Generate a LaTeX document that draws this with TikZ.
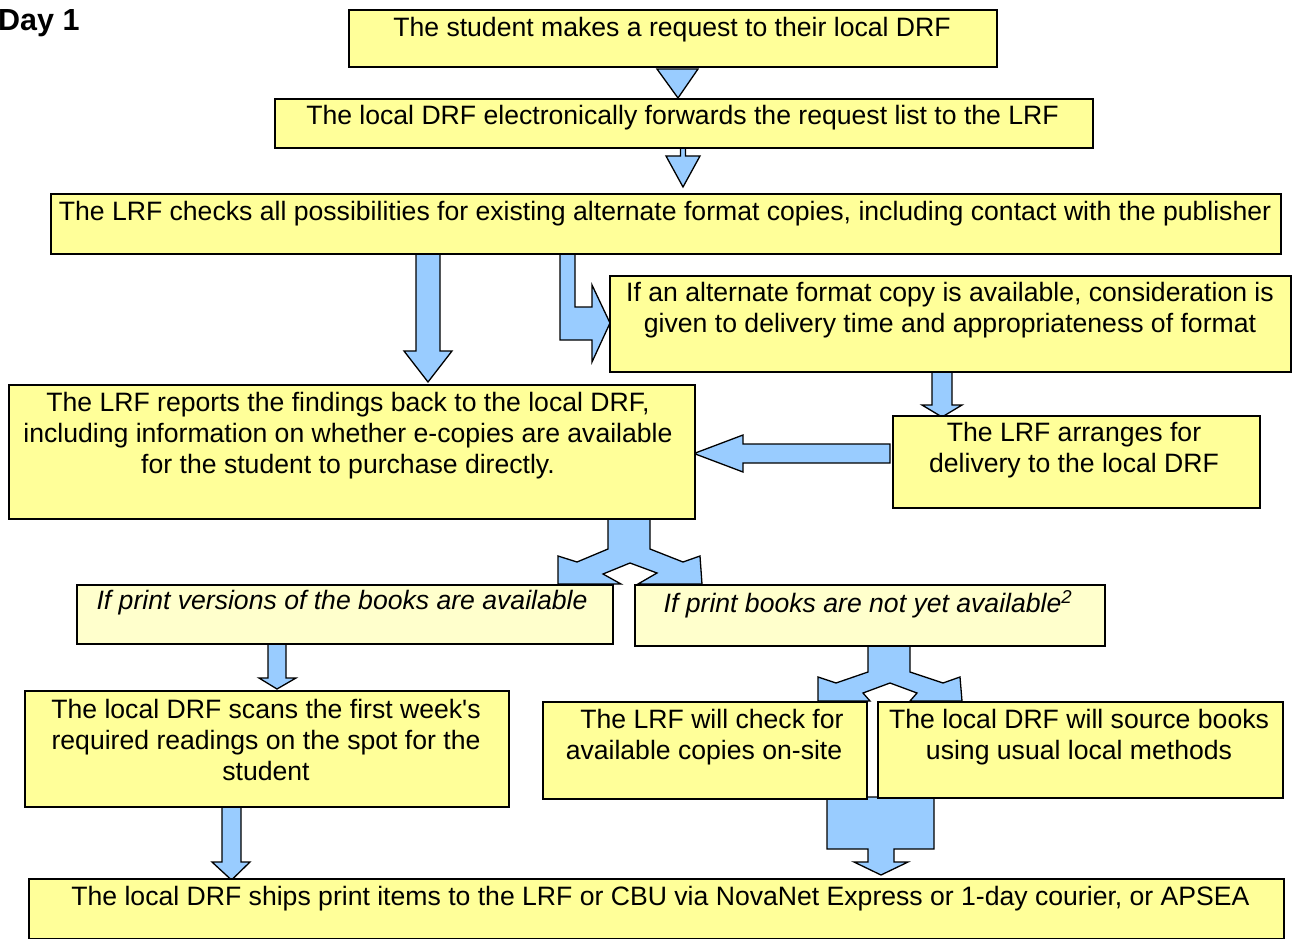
\documentclass[tikz,border=0pt]{standalone}
\usepackage{fontspec}
\setmainfont{Liberation Sans}
\definecolor{boxyellow}{HTML}{FFFF99}
\definecolor{paleyellow}{HTML}{FFFFCC}
\definecolor{arrowblue}{HTML}{99CCFF}
\tikzset{
  box/.style={draw=black, line width=2pt, fill=boxyellow, rectangle, inner sep=0pt, anchor=north west},
  palebox/.style={box, fill=paleyellow},
  txt/.style={inner sep=0pt, anchor=north, align=center, font=\fontsize{26.6}{31}\selectfont},
  itxt/.style={txt, font=\fontsize{26.6}{31}\selectfont\itshape},
  blockarrow/.style={draw=black, line width=1.3pt, fill=arrowblue, line join=miter},
}
\begin{document}
\begin{tikzpicture}[x=1pt, y=-1pt]
\useasboundingbox (0,0) rectangle (1293,939);

% ---- block arrows (drawn first, boxes sit on top of them) ----
\draw[blockarrow] (657,69) -- (698,69) -- (678,98) -- cycle;
\draw[blockarrow] (680.5,147) -- (685.5,147) -- (685.5,156) -- (700,156) -- (683,187)
  -- (666,156) -- (680.5,156) -- cycle;
\draw[blockarrow] (416,253) -- (440,253) -- (440,351) -- (452,351) -- (428,382)
  -- (404,351) -- (416,351) -- cycle;
\draw[blockarrow] (560,253) -- (575,253) -- (575,307) -- (592,307) -- (592,285)
  -- (610,323) -- (592,362) -- (592,340) -- (560,340) -- cycle;
\draw[blockarrow] (932,371) -- (952,371) -- (952,405) -- (962,405) -- (942,417)
  -- (922,405) -- (932,405) -- cycle;
\draw[blockarrow] (890,444) -- (743,444) -- (743,435) -- (694,453.5) -- (743,472)
  -- (743,463) -- (890,463) -- cycle;
% split arrow below the findings box
\draw[blockarrow] (608,518) -- (608,549) -- (577,562) -- (558,556) -- (558,584)
  -- (621,584) -- (603,574) -- (630,563) -- (657,573) -- (638,584) -- (702,584)
  -- (700,556) -- (683,562) -- (650,549) -- (650,518) -- cycle;
% split arrow below the "not yet available" box
\draw[blockarrow] (868,645) -- (868,672) -- (836,683) -- (818,677) -- (818,701)
  -- (870,701) -- (863,693) -- (890,683) -- (917,693) -- (910,701) -- (962,701)
  -- (960,677) -- (943,683) -- (910,672) -- (910,645) -- cycle;
% merge arrow into the shipping box
\draw[blockarrow] (827,797) -- (934,797) -- (934,849) -- (894,849) -- (894,862)
  -- (908,862) -- (881,875) -- (854,862) -- (868,862) -- (868,849) -- (827,849) -- cycle;
\draw[blockarrow] (268,643) -- (286,643) -- (286,678) -- (296,678) -- (277,689)
  -- (259,678) -- (268,678) -- cycle;
\draw[blockarrow] (222,806) -- (241,806) -- (241,862) -- (250,862) -- (231.5,880)
  -- (212,862) -- (222,862) -- cycle;

% ---- boxes ----
\node[box, minimum width=648pt, minimum height=57pt] (b1) at (348,9) {};
\node[box, minimum width=818pt, minimum height=49pt] (b2) at (274,98) {};
\node[box, minimum width=1230pt, minimum height=60pt] (b3) at (50,193) {};
\node[box, minimum width=681pt, minimum height=96pt] (b4) at (609,275) {};
\node[box, minimum width=686pt, minimum height=134pt] (b5) at (8,384) {};
\node[box, minimum width=367pt, minimum height=92pt] (b6) at (892,415) {};
\node[palebox, minimum width=536pt, minimum height=59pt] (b7) at (76,584) {};
\node[palebox, minimum width=470pt, minimum height=61pt] (b8) at (634,584) {};
\node[box, minimum width=484pt, minimum height=116pt] (b9) at (24,690) {};
\node[box, minimum width=324pt, minimum height=97pt] (b10) at (542,701) {};
\node[box, minimum width=405pt, minimum height=96pt] (b11) at (877,701) {};
\node[box, minimum width=1255pt, minimum height=60pt] (b12) at (28,878) {};

% ---- texts ----
\node[inner sep=0pt, anchor=base west, font=\fontsize{30.5}{34}\selectfont\bfseries] (day) at (-2,31) {Day 1};
\node[txt] (t1) at (672,14.8) {\strut The student makes a request to their local DRF};
\node[txt] (t2) at (682.5,102.8) {\strut The local DRF electronically forwards the request list to the LRF};
\node[txt] (t3) at (665,198.8) {\strut The LRF checks all possibilities for existing alternate format copies, including contact with the publisher};
\node[txt] (t4) at (950,279.8) {\strut If an alternate format copy is available, consideration is\\given to delivery time and appropriateness of format};
\node[txt] (t5) at (348,389.8) {\strut The LRF reports the findings back to the local DRF,\\including information on whether e-copies are available\\for the student to purchase directly.};
\node[txt] (t6) at (1074,419.8) {\strut The LRF arranges for\\delivery to the local DRF};
\node[itxt] (t7) at (342,587.8) {\strut If print versions of the books are available};
\node[itxt] (t8) at (868,589.8) {\strut If print books are not yet available\textsuperscript{2}};
\node[txt] (t9) at (266,696.8) {\strut The local DRF scans the first week\textquotesingle s\\required readings on the spot for the\\student};
\node[txt] (t10) at (704,706.8) {\strut\hspace{16pt}The LRF will check for\\available copies on-site};
\node[txt] (t11) at (1079,706.8) {\strut The local DRF will source books\\using usual local methods};
\node[txt] (t12) at (660.5,883.8) {\strut The local DRF ships print items to the LRF or CBU via NovaNet Express or 1-day courier, or APSEA};
\end{tikzpicture}
\end{document}
